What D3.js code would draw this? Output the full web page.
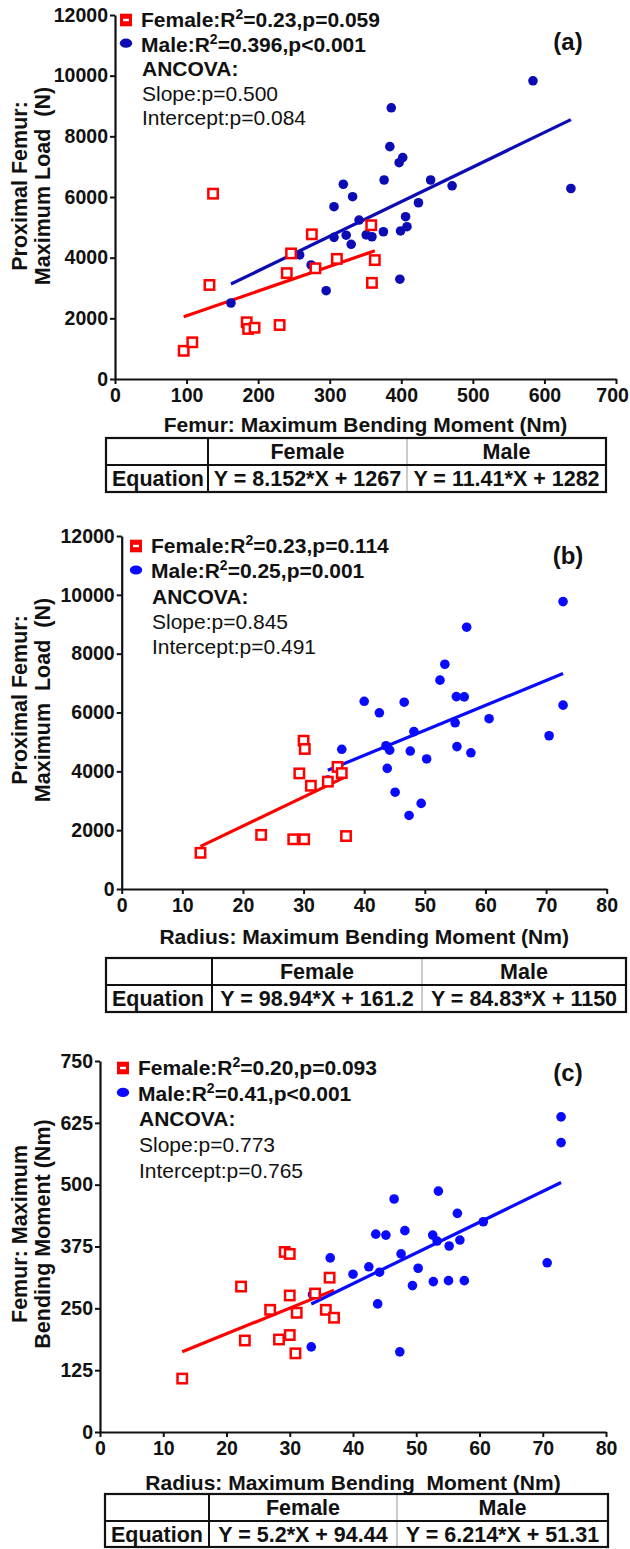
<!DOCTYPE html>
<html><head><meta charset="utf-8">
<script src="https://cdn.jsdelivr.net/npm/d3@7"></script>
<style>
body{margin:0;background:#fff;}
svg text{font-family:"Liberation Sans",Arial,Helvetica,sans-serif;white-space:pre;}
</style></head>
<body><svg id="c" width="630" height="1549"></svg>
<script>
// ---------- DATA ----------
// Panel (a): Femur max bending moment (Nm) vs proximal femur max load (N)
const aFemale = [[96,930],[108,1210],[132,3100],[137,6110],[184,1870],[186,1650],[195,1690],[230,1780],[240,3490],[246,4140],[275,4770],[280,3650],[310,3960],[358,5070],[359,3170],[363,3920]];
const aMale = [[162,2505],[258,4090],[274,3760],[295,2910],[306,5680],[306,4670],[319,6420],[323,4740],[330,4440],[332,6010],[341,5240],[351,4750],[359,4690],[375,4855],[376,6560],[384,7660],[386,8940],[397,7130],[402,7300],[398,3290],[399,4880],[406,5350],[408,5020],[424,5810],[441,6560],[471,6370],[584,9830],[637,6280]];
const aFemaleFit = [8.152, 1267];
const aMaleFit = [11.41, 1282];
const aLegend = ["0.23","p=0.059","0.396","p<0.001","Slope:p=0.500","Intercept:p=0.084"];
const aEquations = ["Y = 8.152*X + 1267","Y = 11.41*X + 1282"];
const aXTicks = [0,100,200,300,400,500,600,700];
const aYTicks = [0,2000,4000,6000,8000,10000,12000];

// Panel (b): Radius max bending moment (Nm) vs proximal femur max load (N)
const bFemale = [[13,1230],[23,1840],[28.3,1690],[30.1,1690],[37,1800],[29.3,3930],[30,5040],[30.2,4760],[31.2,3510],[34,3650],[35.6,4150],[36.3,3940]];
const bMale = [[34,3700],[36.3,4750],[40,6380],[42.5,5990],[43.6,4870],[44.2,4720],[43.8,4100],[45.1,3290],[46.6,6350],[47.4,2500],[47.6,4690],[48.2,5350],[49.4,2910],[50.3,4420],[52.5,7100],[53.3,7640],[55,5650],[55.2,6540],[55.3,4840],[56.5,6530],[56.9,8900],[57.6,4630],[60.6,5790],[70.5,5210],[72.8,6250],[72.8,9770]];
const bFemaleFit = [98.94, 161.2];
const bMaleFit = [84.83, 1150];
const bLegend = ["0.23","p=0.114","0.25","p=0.001","Slope:p=0.845","Intercept:p=0.491"];
const bEquations = ["Y = 98.94*X + 161.2","Y = 84.83*X + 1150"];
const bXTicks = [0,10,20,30,40,50,60,70,80];
const bYTicks = [0,2000,4000,6000,8000,10000,12000];

// Panel (c): Radius max bending moment (Nm) vs femur max bending moment (Nm)
const cFemale = [[13,108],[22.3,294],[22.9,185],[26.9,247],[28.3,187],[29.2,364],[30,360],[30,276],[30,196],[30.9,159],[31.1,241],[34,280],[35.7,247],[36.3,312],[37,231]];
const cMale = [[33.4,172],[33.6,278],[36.4,352],[40,319],[42.5,334],[43.9,259],[44.2,323],[43.6,400],[45.2,398],[46.5,471],[47.4,162],[47.6,360],[48.2,407],[49.4,296],[50.3,331],[52.6,398],[52.7,304],[53.5,487],[53.3,386],[55.2,376],[55.1,306],[56.5,442],[56.9,388],[57.6,306],[60.6,425],[70.7,342],[72.9,585],[72.9,637]];
const cFemaleFit = [5.2, 94.44];
const cMaleFit = [6.214, 51.31];
const cLegend = ["0.20","p=0.093","0.41","p<0.001","Slope:p=0.773","Intercept:p=0.765"];
const cEquations = ["Y = 5.2*X + 94.44","Y = 6.214*X + 51.31"];
const cXTicks = [0,10,20,30,40,50,60,70,80];
const cYTicks = [0,125,250,375,500,625,750];

// ---------- DRAW ----------
const svg = d3.select("#c");
const RED = "#ff0000";

function panel(o){
  const g = svg.append("g");
  const x = d3.scaleLinear().domain([o.xTicks[0], o.xTicks[o.xTicks.length-1]]).range([o.x0, o.x1]);
  const y = d3.scaleLinear().domain([o.yTicks[0], o.yTicks[o.yTicks.length-1]]).range([o.y0, o.y1]);

  // fit lines
  const fit = (data, f, col) => {
    const ext = d3.extent(data, d => d[0]);
    g.append("line")
      .attr("x1", x(ext[0])).attr("y1", y(f[0]*ext[0]+f[1]))
      .attr("x2", x(ext[1])).attr("y2", y(f[0]*ext[1]+f[1]))
      .attr("stroke", col).attr("stroke-width", 3.2);
  };
  fit(o.female, o.femaleFit, RED);
  fit(o.male, o.maleFit, o.blue);

  g.selectAll("circle.m").data(o.male).enter().append("circle")
    .attr("cx", d => x(d[0])).attr("cy", d => y(d[1])).attr("r", 4.8).attr("fill", o.blue);
  g.selectAll("rect.f").data(o.female).enter().append("rect")
    .attr("x", d => x(d[0]) - 4.7).attr("y", d => y(d[1]) - 4.7)
    .attr("width", 9.4).attr("height", 9.4)
    .attr("fill", "#fff").attr("stroke", RED).attr("stroke-width", 2.5);

  // axes
  const xa = g.append("g").attr("transform", `translate(0,${o.y0})`)
    .call(d3.axisBottom(x).tickValues(o.xTicks).tickSize(5).tickSizeOuter(0).tickPadding(4).tickFormat(d3.format("d")));
  const ya = g.append("g").attr("transform", `translate(${o.x0},0)`)
    .call(d3.axisLeft(y).tickValues(o.yTicks).tickSize(5).tickSizeOuter(0).tickPadding(2).tickFormat(d3.format("d")));
  [xa, ya].forEach(a => {
    a.select(".domain").attr("stroke", "#111").attr("stroke-width", 2.2);
    a.selectAll(".tick line").attr("stroke", "#111").attr("stroke-width", 2);
    a.selectAll(".tick text").attr("fill", "#111").style("font-size", "19.5px").style("font-weight", "bold");
  });
  // keep the last x tick label inside the page
  xa.selectAll(".tick text").each(function(){
    const bb = this.getBBox();
    const m = this.parentNode.transform.baseVal.consolidate().matrix.e;
    const over = m + bb.x + bb.width - 629;
    if (over > 0) d3.select(this).attr("x", -over);
  });

  // axis titles
  g.append("text").attr("x", (o.x0+o.x1)/2).attr("y", o.xTitleY).attr("text-anchor", "middle")
    .style("font-size", "21px").style("font-weight", "bold").attr("fill", "#111").text(o.xTitle);
  o.yTitle.forEach((t, i) => {
    g.append("text").attr("transform", `translate(${27 + i*23},${o.yTitleCY}) rotate(-90)`)
      .attr("text-anchor", "middle").style("font-size", "21.5px").style("font-weight", "bold")
      .attr("fill", "#111").text(t);
  });

  // panel label
  g.append("text").attr("x", 568).attr("y", o.labelY).attr("text-anchor", "middle")
    .style("font-size", "24px").style("font-weight", "bold").attr("fill", "#111").text(o.label);

  // legend
  const L = o.legend, lx = o.legX, lb = o.legBase, sp = o.legSp;
  g.append("rect").attr("x", lx-15-6).attr("y", lb-7-6.3).attr("width", 12).attr("height", 12.6).attr("fill", RED);
  g.append("rect").attr("x", lx-15-3).attr("y", lb-7-1.2).attr("width", 6).attr("height", 2.4).attr("fill", "#fff");
  g.append("ellipse").attr("cx", lx-15).attr("cy", lb+sp-8.3).attr("rx", 6.2).attr("ry", 4.6).attr("fill", o.blue);
  const leg = (row, name, r2, p) => {
    const t = g.append("text").attr("x", lx).attr("y", lb+row*sp).style("font-size", "21px")
      .style("font-weight", "bold").attr("fill", "#111");
    t.append("tspan").text(name + ":R");
    t.append("tspan").attr("dy", -8).style("font-size", "14px").text("2");
    t.append("tspan").attr("dy", 8).text("=" + r2 + "," + p);
  };
  leg(0, "Female", L[0], L[1]);
  leg(1, "Male", L[2], L[3]);
  g.append("text").attr("x", lx+1).attr("y", lb+2*sp).style("font-size", "21px").style("font-weight", "bold")
    .attr("fill", "#111").text("ANCOVA:");
  g.append("text").attr("x", lx+1).attr("y", lb+3*sp).style("font-size", "21px").attr("fill", "#111").text(L[4]);
  g.append("text").attr("x", lx+1).attr("y", lb+4*sp).style("font-size", "21px").attr("fill", "#111").text(L[5]);

  // table
  const c = o.tCols, r = o.tRows;
  const tg = svg.append("g");
  tg.append("line").attr("x1", c[2]).attr("x2", c[2]).attr("y1", r[0]).attr("y2", r[2]).attr("stroke", "#aaa").attr("stroke-width", 1.2);
  tg.append("line").attr("x1", c[1]).attr("x2", c[1]).attr("y1", r[0]).attr("y2", r[2]).attr("stroke", "#111").attr("stroke-width", 2);
  tg.append("line").attr("x1", c[0]).attr("x2", c[3]).attr("y1", r[1]).attr("y2", r[1]).attr("stroke", "#111").attr("stroke-width", 2);
  tg.append("rect").attr("x", c[0]).attr("y", r[0]).attr("width", c[3]-c[0]).attr("height", r[2]-r[0])
    .attr("fill", "none").attr("stroke", "#111").attr("stroke-width", 2.2);
  const tt = (xx, yy, s, anchor) => tg.append("text").attr("x", xx).attr("y", yy).attr("text-anchor", anchor)
    .style("font-size", "21.5px").style("font-weight", "bold").attr("fill", "#111").text(s);
  tt((c[1]+c[2])/2, r[0]+21, "Female", "middle");
  tt((c[2]+c[3])/2, r[0]+21, "Male", "middle");
  tt(c[0]+6, r[1]+21, "Equation", "start");
  tt((c[1]+c[2])/2, r[1]+21, o.eq[0], "middle");
  tt((c[2]+c[3])/2, r[1]+21, o.eq[1], "middle");
}

panel({
  female: aFemale, male: aMale, femaleFit: aFemaleFit, maleFit: aMaleFit,
  xTicks: aXTicks, yTicks: aYTicks, x0: 115, x1: 616, y0: 379, y1: 15,
  blue: "#0c0cb4", xTitle: "Femur: Maximum Bending Moment (Nm)", xTitleY: 432,
  yTitle: ["Proximal Femur:", "Maximum Load  (N)"], yTitleCY: 186,
  label: "(a)", labelY: 50, legend: aLegend, legX: 141, legBase: 27, legSp: 24.5,
  eq: aEquations, tCols: [106, 208, 407, 606], tRows: [438, 465, 492]
});
panel({
  female: bFemale, male: bMale, femaleFit: bFemaleFit, maleFit: bMaleFit,
  xTicks: bXTicks, yTicks: bYTicks, x0: 121.7, x1: 606.7, y0: 889, y1: 536,
  blue: "#0a0aff", xTitle: "Radius: Maximum Bending Moment (Nm)", xTitleY: 944,
  yTitle: ["Proximal Femur:", "Maximum  Load  (N)"], yTitleCY: 700,
  label: "(b)", labelY: 564, legend: bLegend, legX: 151, legBase: 553, legSp: 25.3,
  eq: bEquations, tCols: [106, 212, 422, 626], tRows: [958, 985, 1012]
});
panel({
  female: cFemale, male: cMale, femaleFit: cFemaleFit, maleFit: cMaleFit,
  xTicks: cXTicks, yTicks: cYTicks, x0: 100, x1: 606, y0: 1432, y1: 1061,
  blue: "#0a0aff", xTitle: "Radius: Maximum Bending  Moment (Nm)", xTitleY: 1490,
  yTitle: ["Femur: Maximum", "Bending Moment (Nm)"], yTitleCY: 1234,
  label: "(c)", labelY: 1081, legend: cLegend, legX: 138, legBase: 1075, legSp: 25.7,
  eq: cEquations, tCols: [105, 209, 397, 608], tRows: [1494, 1521, 1547]
});
</script></body></html>
